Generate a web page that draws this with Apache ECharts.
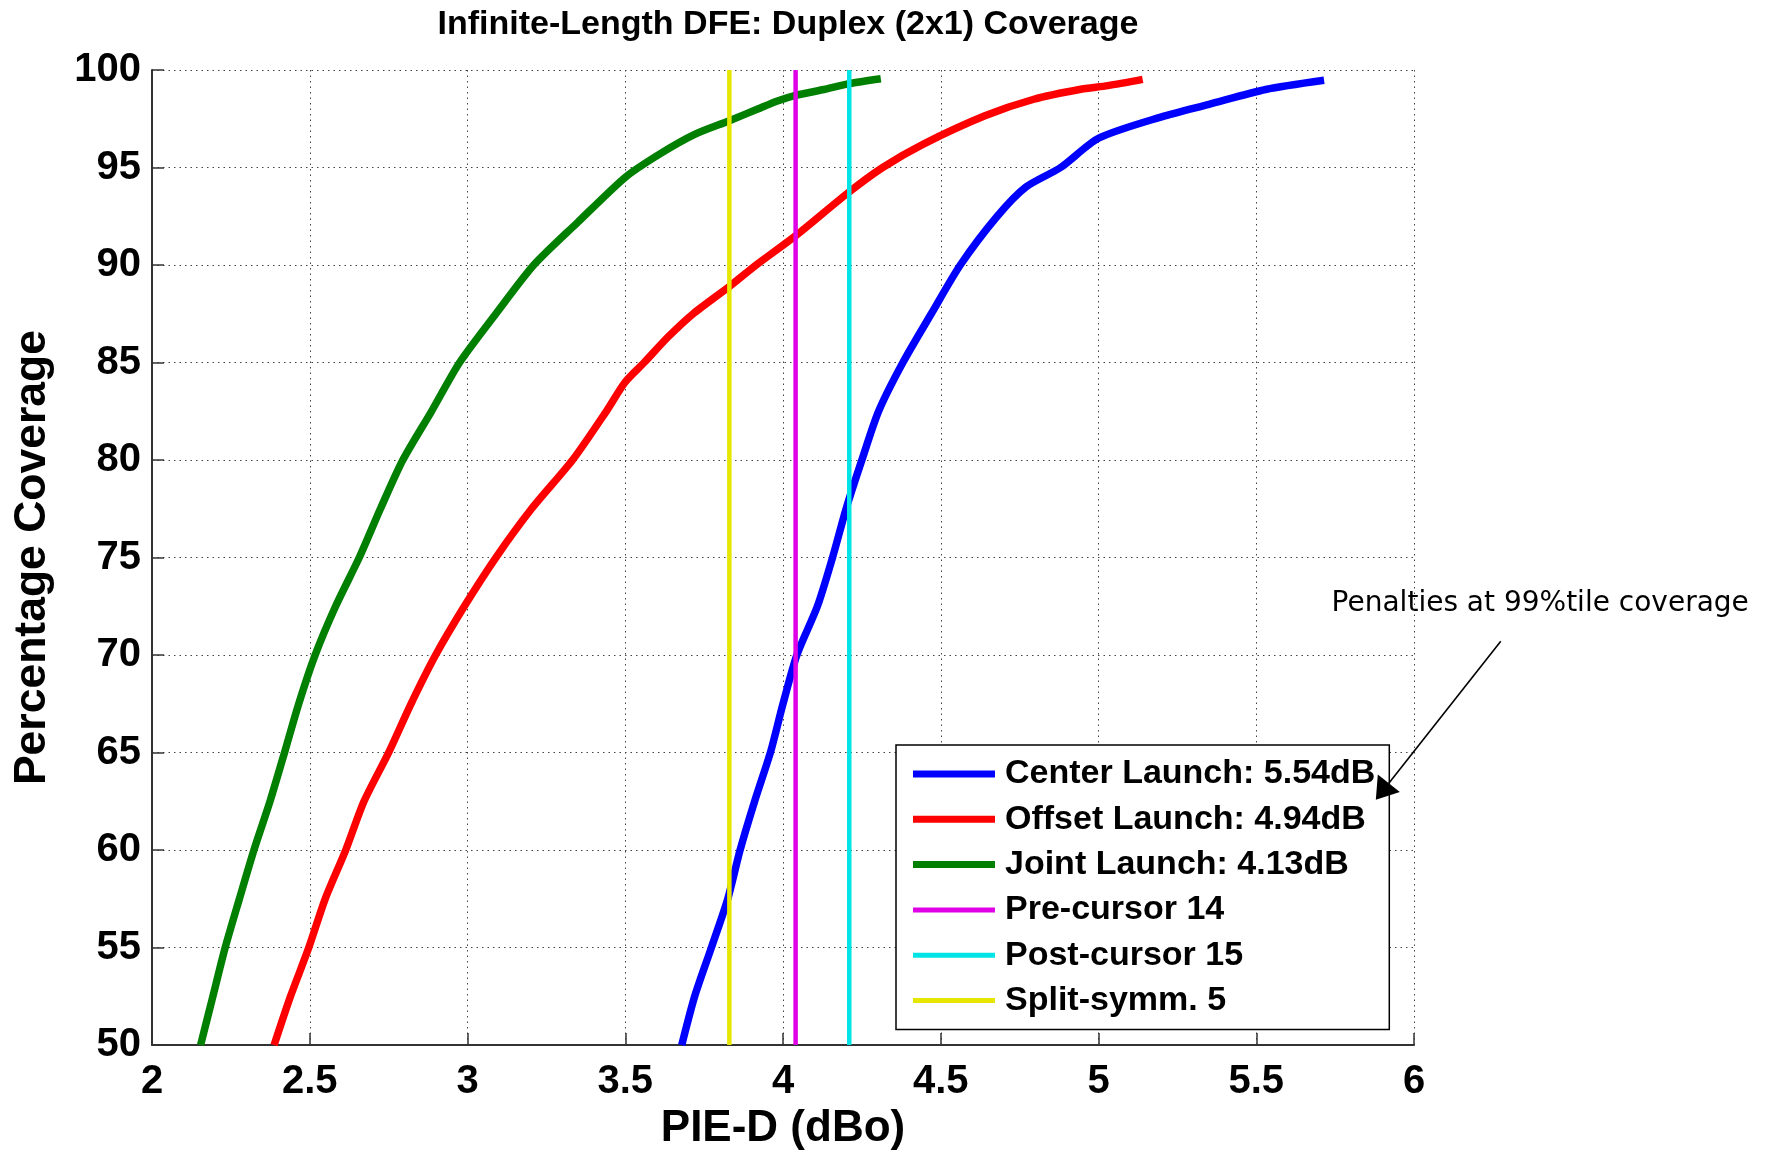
<!DOCTYPE html>
<html>
<head>
<meta charset="utf-8">
<script src="https://cdn.jsdelivr.net/npm/echarts@6/dist/echarts.min.js"></script>
<style>
html,body{margin:0;padding:0;background:#fff;}
#chart{width:1767px;height:1156px;}
</style>
</head>
<body>
<div id="chart"></div>
<script>
// ---- Data ----
const seriesNames = ['Center Launch: 5.54dB', 'Offset Launch: 4.94dB', 'Joint Launch: 4.13dB',
                     'Pre-cursor 14', 'Post-cursor 15', 'Split-symm. 5'];

const centerCoverage = [50, 52.5, 55, 57.5, 60, 62.5, 65, 67.5, 70, 72.5, 75, 77.5, 80, 82.5, 85, 87.5, 90, 92.5, 94, 95, 96.5, 97.6, 98.24, 99, 99.47];
const centerPIED     = [3.679, 3.72, 3.773, 3.825, 3.864, 3.91, 3.96, 4.0, 4.044, 4.109, 4.157, 4.2, 4.25, 4.303, 4.38, 4.47, 4.562, 4.679, 4.77, 4.88, 5.0, 5.2, 5.35, 5.53, 5.715];

const offsetCoverage = [50, 52.5, 55, 57.5, 60, 62.5, 65, 67.5, 70, 72.5, 75, 77.5, 80, 82.5, 84, 85, 86.3, 87.5, 88.9, 90, 91.5, 93.7, 95, 96.2, 97.65, 98.5, 99, 99.2, 99.52];
const offsetPIED     = [2.387, 2.439, 2.497, 2.549, 2.614, 2.672, 2.75, 2.821, 2.899, 2.99, 3.09, 3.203, 3.333, 3.44, 3.5, 3.56, 3.635, 3.715, 3.83, 3.915, 4.04, 4.206, 4.316, 4.445, 4.64, 4.795, 4.94, 5.03, 5.14];

const jointCoverage = [50, 52.5, 55, 57.5, 60, 62.5, 65, 67.5, 70, 72.5, 75, 77.5, 80, 82.5, 85, 87.5, 90, 92.2, 94.5, 95.7, 96.7, 97.4, 98, 98.4, 98.7, 99, 99.3, 99.55];
const jointPIED     = [2.154, 2.193, 2.232, 2.277, 2.323, 2.374, 2.42, 2.465, 2.517, 2.582, 2.657, 2.724, 2.795, 2.886, 2.975, 3.09, 3.21, 3.35, 3.5, 3.61, 3.72, 3.83, 3.92, 3.98, 4.04, 4.13, 4.21, 4.31];

const preCursorPIED  = 4.04;
const postCursorPIED = 4.21;
const splitSymmPIED  = 3.83;
const verticalSpan   = [50, 100];

const xTicks = [2, 2.5, 3, 3.5, 4, 4.5, 5, 5.5, 6];
const yTicks = [50, 55, 60, 65, 70, 75, 80, 85, 90, 95, 100];

const annotationText = 'Penalties at 99%tile coverage';
const annotationTextAt = [6.40, 72.65];
const arrowTail = [6.275, 70.71];
const arrowTip  = [5.879, 62.58];

// ---- Build ----
function zip(xs, ys) { return xs.map((x, i) => [x, ys[i]]); }
function vline(x) { return verticalSpan.map(y => [x, y]); }

const colors = ['#0000ff', '#ff0000', '#007f00', '#e000e6', '#00e4e6', '#e6e600'];
const dataSets = [
  zip(centerPIED, centerCoverage),
  zip(offsetPIED, offsetCoverage),
  zip(jointPIED, jointCoverage),
  vline(preCursorPIED),
  vline(postCursorPIED),
  vline(splitSymmPIED)
];
const widths = [7.5, 7.5, 7.5, 4.5, 4.5, 4.5];

const FONT = '"Liberation Sans", Arial, sans-serif';
const chart = echarts.init(document.getElementById('chart'), null, {renderer: 'canvas'});

const gridLine = {show: true, lineStyle: {color: '#444', width: 1, type: [1.5, 4]}};

chart.setOption({
  animation: false,
  backgroundColor: '#ffffff',
  title: {
    text: 'Infinite-Length DFE: Duplex (2x1) Coverage',
    left: 783, top: 3, textAlign: 'center',
    textStyle: {fontFamily: FONT, fontSize: 34, fontWeight: 'bold', color: '#000'}
  },
  grid: {left: 152, top: 70, width: 1262, height: 978, containLabel: false},
  xAxis: {
    type: 'value',
    min: xTicks[0], max: xTicks[xTicks.length - 1], interval: xTicks[1] - xTicks[0],
    name: 'PIE-D (dBo)', nameLocation: 'middle', nameGap: 61,
    nameTextStyle: {fontFamily: FONT, fontSize: 44, fontWeight: 'bold', color: '#000'},
    axisLine: {show: true, onZero: false, lineStyle: {color: '#333', width: 2}},
    axisTick: {show: true, inside: true, length: 12, lineStyle: {color: '#333', width: 1.5}},
    axisLabel: {margin: 17, fontFamily: FONT, fontSize: 40, fontWeight: 'bold', color: '#000'},
    splitLine: gridLine
  },
  yAxis: {
    type: 'value',
    min: yTicks[0], max: yTicks[yTicks.length - 1], interval: yTicks[1] - yTicks[0],
    name: 'Percentage Coverage', nameLocation: 'middle', nameGap: 97,
    nameTextStyle: {fontFamily: FONT, fontSize: 44.5, fontWeight: 'bold', color: '#000'},
    axisLine: {show: true, onZero: false, lineStyle: {color: '#333', width: 2}},
    axisTick: {show: true, inside: true, length: 12, lineStyle: {color: '#333', width: 1.5}},
    axisLabel: {margin: 11, fontFamily: FONT, fontSize: 40, fontWeight: 'bold', color: '#000'},
    splitLine: gridLine
  },
  legend: {
    orient: 'vertical',
    left: 896, top: 745,
    backgroundColor: '#ffffff',
    borderColor: '#000', borderWidth: 1.5, borderRadius: 0,
    padding: [10, 14, 10, 17],
    itemWidth: 82, itemHeight: 14, itemGap: 7.3,
    textStyle: {fontFamily: FONT, fontSize: 34, fontWeight: 'bold', color: '#000', lineHeight: 38, padding: [0, 0, 0, 5]},
    data: seriesNames.map((n, i) => ({
      name: n,
      icon: 'path://M0,0 L82,0 L82,' + (i < 3 ? 7 : 5) + ' L0,' + (i < 3 ? 7 : 5) + ' Z',
      itemStyle: {color: colors[i], borderWidth: 0}
    })),
    selectedMode: false
  },
  series: seriesNames.map((n, i) => ({
    name: n, type: 'line', data: dataSets[i],
    showSymbol: false, symbol: 'none',
    smooth: i < 3 ? 0.25 : false,
    lineStyle: {color: colors[i], width: widths[i]},
    itemStyle: {color: colors[i]},
    clip: true, z: 2 + i
  }))
});

// annotation (arrow + text) positioned through the axes' scales
const T = chart.convertToPixel({gridIndex: 0}, arrowTip);
const S = chart.convertToPixel({gridIndex: 0}, arrowTail);
const P = chart.convertToPixel({gridIndex: 0}, annotationTextAt);
const dx = T[0] - S[0], dy = T[1] - S[1];
const L = Math.sqrt(dx * dx + dy * dy);
const ux = dx / L, uy = dy / L;
const headLen = 21, headHalf = 14;
const B = [T[0] - ux * headLen, T[1] - uy * headLen];
const nx = -uy, ny = ux;

chart.setOption({
  graphic: [
    {type: 'line', shape: {x1: S[0], y1: S[1], x2: B[0], y2: B[1]}, style: {stroke: '#000', lineWidth: 1.6}, z: 100},
    {type: 'polygon', shape: {points: [T, [B[0] + nx * headHalf, B[1] + ny * headHalf], [B[0] - nx * headHalf, B[1] - ny * headHalf]]},
     style: {fill: '#000'}, z: 100},
    {type: 'text', x: P[0], y: P[1], style: {text: annotationText, fill: '#000', font: '28px "DejaVu Sans", sans-serif', textAlign: 'center', textVerticalAlign: 'middle'}, z: 100}
  ]
});
</script>
</body>
</html>
